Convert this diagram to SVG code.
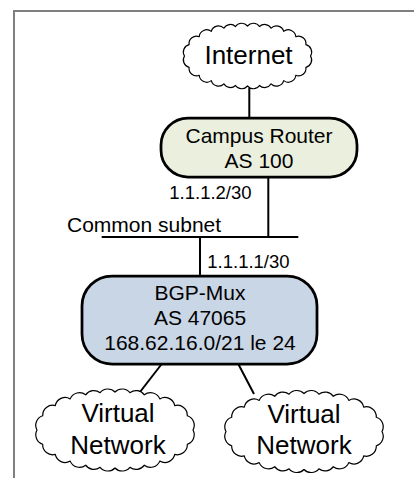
<svg xmlns="http://www.w3.org/2000/svg" xmlns:xlink="http://www.w3.org/1999/xlink" width="414" height="478" viewBox="0 0 414 478">
<style>
  text { font-family: "Liberation Sans", Arial, sans-serif; fill: #000; }
  .cloud { fill: #fff; stroke: #000; stroke-width: 1.2; stroke-linejoin: round; }
  .big { font-size: 26px; text-anchor: middle; }
  .node { font-size: 21px; text-anchor: middle; }
  .lbl { font-size: 18.5px; }
  .conn line, .conn path { stroke: #000; stroke-width: 2; fill: none; }
</style>
<defs>
  <path id="cloudI" d="M63,0 A7.5,7.5 0 0 1 58.4,11.3 A7.5,7.5 0 0 1 48.3,19.3 A7.5,7.5 0 0 1 36.2,24.6 A7.5,7.5 0 0 1 23.6,27.8 A7.5,7.5 0 0 1 12,29.5 A7.5,7.5 0 0 1 0,30 A7.5,7.5 0 0 1 -12,29.5 A7.5,7.5 0 0 1 -23.6,27.8 A7.5,7.5 0 0 1 -36.2,24.6 A7.5,7.5 0 0 1 -48.3,19.3 A7.5,7.5 0 0 1 -58.4,11.3 A7.5,7.5 0 0 1 -63,0 A7.5,7.5 0 0 1 -58.4,-11.3 A7.5,7.5 0 0 1 -48.3,-19.3 A7.5,7.5 0 0 1 -36.2,-24.6 A7.5,7.5 0 0 1 -23.6,-27.8 A7.5,7.5 0 0 1 -12,-29.5 A7.5,7.5 0 0 1 0,-30 A7.5,7.5 0 0 1 12,-29.5 A7.5,7.5 0 0 1 23.6,-27.8 A7.5,7.5 0 0 1 36.2,-24.6 A7.5,7.5 0 0 1 48.3,-19.3 A7.5,7.5 0 0 1 58.4,-11.3 A7.5,7.5 0 0 1 63,0 Z"/>
  <path id="cloudV" d="M78,0 A10,10 0 0 1 72.3,14.3 A10,10 0 0 1 59.7,24.4 A10,10 0 0 1 44.8,31.1 A10,10 0 0 1 29.3,35.2 A10,10 0 0 1 14.9,37.3 A10,10 0 0 1 0,38 A10,10 0 0 1 -14.9,37.3 A10,10 0 0 1 -29.3,35.2 A10,10 0 0 1 -44.8,31.1 A10,10 0 0 1 -59.7,24.4 A10,10 0 0 1 -72.3,14.3 A10,10 0 0 1 -78,0 A10,10 0 0 1 -72.3,-14.3 A10,10 0 0 1 -59.7,-24.4 A10,10 0 0 1 -44.8,-31.1 A10,10 0 0 1 -29.3,-35.2 A10,10 0 0 1 -14.9,-37.3 A10,10 0 0 1 0,-38 A10,10 0 0 1 14.9,-37.3 A10,10 0 0 1 29.3,-35.2 A10,10 0 0 1 44.8,-31.1 A10,10 0 0 1 59.7,-24.4 A10,10 0 0 1 72.3,-14.3 A10,10 0 0 1 78,0 Z"/>
</defs>
<rect width="414" height="478" fill="#fff"/>
<path d="M14,478 V11 H414" fill="none" stroke="#7f7f7f" stroke-width="2"/>

<g id="connectors" class="conn">
  <line x1="249.3" y1="88" x2="249.3" y2="118"/>
  <line x1="268.3" y1="177" x2="268.3" y2="237"/>
  <line x1="101.7" y1="237" x2="298.3" y2="237"/>
  <line x1="200" y1="237" x2="200" y2="276"/>
  <line x1="161.7" y1="364" x2="140" y2="392"/>
  <line x1="238.3" y1="364" x2="254" y2="394"/>
</g>

<g id="internet">
  <use xlink:href="#cloudI" href="#cloudI" class="cloud" transform="translate(247.5,56)"/>
  <text class="big" x="248.5" y="64">Internet</text>
</g>

<g id="campus-router">
  <rect x="161" y="118" width="196" height="59" rx="27" ry="27" fill="#ebefdd" stroke="#000" stroke-width="2.75"/>
  <text class="node" x="259" y="143">Campus Router</text>
  <text class="node" x="259" y="167.5">AS 100</text>
</g>

<g id="subnet-labels">
  <text class="lbl" x="169.3" y="198.5">1.1.1.2/30</text>
  <text x="67" y="231.5" font-size="21">Common subnet</text>
  <text class="lbl" x="207.3" y="268.3">1.1.1.1/30</text>
</g>

<g id="bgp-mux">
  <rect x="82" y="276" width="235" height="88" rx="30" ry="30" fill="#c9d6e6" stroke="#000" stroke-width="2.75"/>
  <text class="node" x="200" y="299.5">BGP-Mux</text>
  <text class="node" x="200" y="325">AS 47065</text>
  <text class="node" x="200" y="350">168.62.16.0/21 le 24</text>
</g>

<g id="virtual-network-1">
  <use xlink:href="#cloudV" href="#cloudV" class="cloud" transform="translate(115,430)"/>
  <text class="big" x="118" y="422">Virtual</text>
  <text class="big" x="118" y="453.5">Network</text>
</g>

<g id="virtual-network-2">
  <use xlink:href="#cloudV" href="#cloudV" class="cloud" transform="translate(304,431.5)"/>
  <text class="big" x="304" y="422.5">Virtual</text>
  <text class="big" x="304" y="454">Network</text>
</g>
</svg>
